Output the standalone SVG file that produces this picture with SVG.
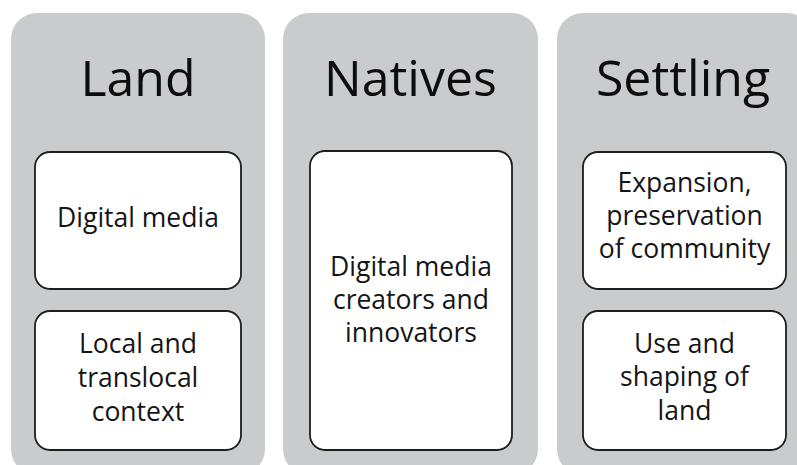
<svg xmlns="http://www.w3.org/2000/svg" width="797" height="465" viewBox="0 0 797 465">
  <style>
    .panel { fill: #cacbcd; }
    .box { fill: #ffffff; stroke: #1e1e1e; stroke-width: 1.8; }
    .title { font-family: "Open Sans", "Noto Sans", sans-serif; font-size: 50px; fill: #0d0d0d; text-anchor: middle; }
    .body { font-family: "Open Sans", "Noto Sans", sans-serif; font-size: 26.5px; fill: #151515; text-anchor: middle; }
  </style>
  <rect width="797" height="465" fill="#ffffff"/>
  <g id="land">
    <rect class="panel" x="11" y="13" width="254" height="462" rx="26"/>
    <text class="title" x="138" y="96">Land</text>
    <g id="land-digital-media">
      <rect class="box" x="35" y="152" width="206" height="137" rx="15"/>
      <text class="body" x="138" y="227">Digital media</text>
    </g>
    <g id="land-context">
      <rect class="box" x="35" y="311" width="206" height="139" rx="15"/>
      <text class="body"><tspan x="138" y="353">Local and</tspan><tspan x="138" y="387">translocal</tspan><tspan x="138" y="421">context</tspan></text>
    </g>
  </g>
  <g id="natives">
    <rect class="panel" x="283" y="13" width="255" height="462" rx="26"/>
    <text class="title" x="410.5" y="96">Natives</text>
    <g id="natives-creators">
      <rect class="box" x="310" y="151" width="202" height="299" rx="15"/>
      <text class="body"><tspan x="411" y="276">Digital media</tspan><tspan x="411" y="309">creators and</tspan><tspan x="411" y="342">innovators</tspan></text>
    </g>
  </g>
  <g id="settling">
    <rect class="panel" x="557" y="13" width="256" height="462" rx="26"/>
    <text class="title" x="683" y="96">Settling</text>
    <g id="settling-community">
      <rect class="box" x="583" y="152" width="203" height="137" rx="15"/>
      <text class="body"><tspan x="684.5" y="192">Expansion,</tspan><tspan x="684.5" y="225">preservation</tspan><tspan x="684.5" y="258">of community</tspan></text>
    </g>
    <g id="settling-land">
      <rect class="box" x="583" y="311" width="203" height="139" rx="15"/>
      <text class="body"><tspan x="684.5" y="353">Use and</tspan><tspan x="684.5" y="386">shaping of</tspan><tspan x="684.5" y="420">land</tspan></text>
    </g>
  </g>
  <g id="connectors"/>
</svg>
